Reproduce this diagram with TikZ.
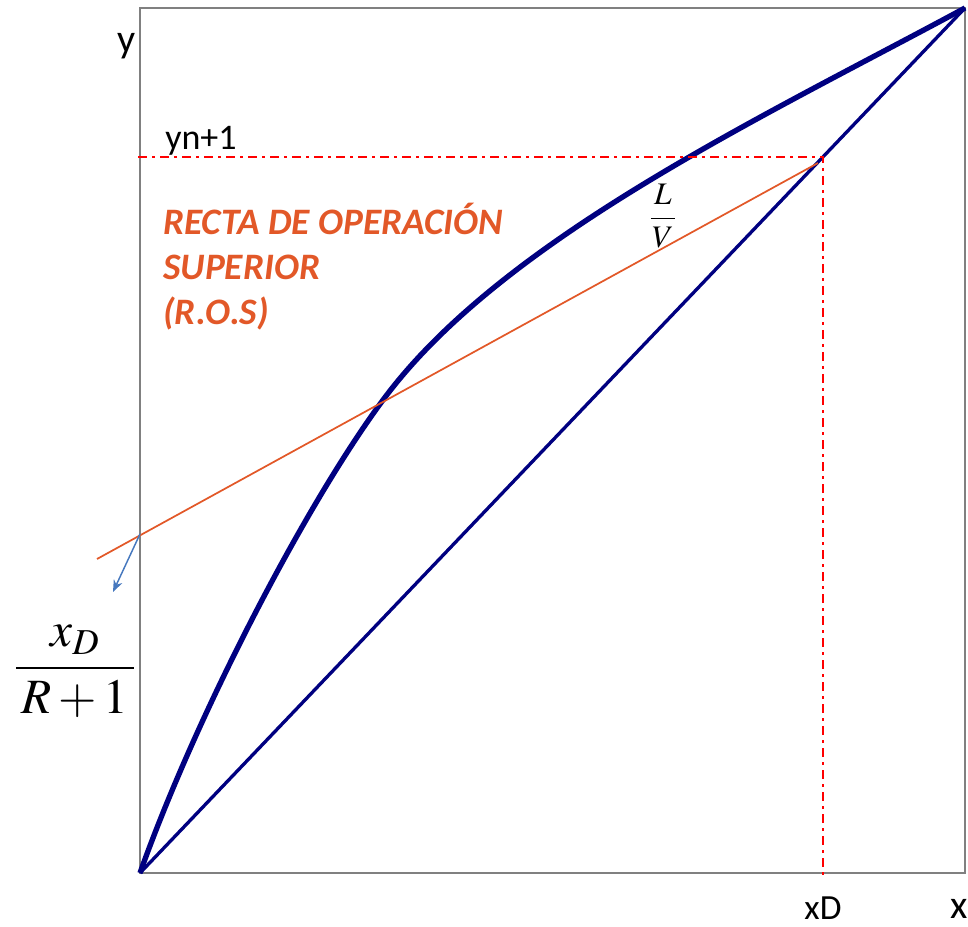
\RequirePackage{fix-cm}
\documentclass[tikz,border=0pt]{standalone}
\usepackage{mathptmx}
\usepackage{fontspec}
\setmainfont{Carlito}
\usetikzlibrary{arrows.meta}
\definecolor{eqblue}{RGB}{0,0,128}
\definecolor{rosorange}{RGB}{226,88,40}
\definecolor{hintblue}{RGB}{70,120,190}
\tikzset{
  plotframe/.style={draw=black!50,line width=1.9pt},
  eqcurve/.style={draw=eqblue,line width=4pt},
  diagline/.style={draw=eqblue,line width=2.5pt},
  rosline/.style={draw=rosorange,line width=1.3pt},
  guide/.style={draw=red,line width=1.5pt,dash pattern=on 6.75pt off 3.75pt on 2.25pt off 3.75pt},
  hint/.style={draw=hintblue,line width=1.1pt,-{Stealth[length=9pt,width=7pt]}},
  axlabel/.style={font=\fontsize{30}{36}\selectfont,inner sep=0pt}
}

\begin{document}
\begin{tikzpicture}[x=0.75pt,y=-0.75pt]
  \useasboundingbox (0,0) rectangle (968,927);
  % corners of the x-y diagram and the points on it
  \coordinate (o) at (140,873);
  \coordinate (t) at (965,8);
  \coordinate (m) at (383,400);
  \coordinate (yn) at (138,157);
  \coordinate (p) at (823,157);
  \coordinate (xdb) at (823,880);
  \coordinate (r1) at (818,163);
  \coordinate (r0) at (97,559);
  \coordinate (ri) at (140,534);
  \coordinate (tip) at (113,592);

  \draw[plotframe] (o) rectangle (t);
  \draw[eqcurve] (o) .. controls (197,713) and (306,504) .. (m)
    .. controls (502,239) and (763,117) .. (t);
  \draw[diagline] (o) -- (t);
  \draw[guide] (yn) -- (p) -- (xdb);
  \draw[rosline] (r1) -- (r0);
  \draw[hint] (ri) -- (tip);

  \node[axlabel,anchor=base west] (ylab) at (117,53) {y};
  \node[axlabel,anchor=base west] (xlab) at (950,918) {x};
  \node[anchor=base west,inner sep=0pt,font=\fontsize{27}{32}\selectfont] (ynlab) at (165,150) {yn+1};
  \node[anchor=base,inner sep=0pt,font=\fontsize{26.5}{32}\selectfont] (xdlab) at (823,919) {xD};
  \node[anchor=base west,inner sep=0pt,align=left,text=rosorange,
    font=\fontsize{28}{33.75}\selectfont\bfseries\itshape] (roslab) at (163,325)
    {RECTA DE OPERACIÓN\\SUPERIOR\\(R.O.S)};
  \node[anchor=base,inner sep=0pt,font=\fontsize{23.5}{28}\selectfont] (lv) at (663,226) {$\displaystyle\frac{\,L\,}{V}$};
  \node[anchor=base,inner sep=0pt,font=\fontsize{37}{44}\selectfont] (slope) at (75,680) {$\displaystyle\frac{x_D}{\,R+1\,}$};
\end{tikzpicture}
\end{document}
